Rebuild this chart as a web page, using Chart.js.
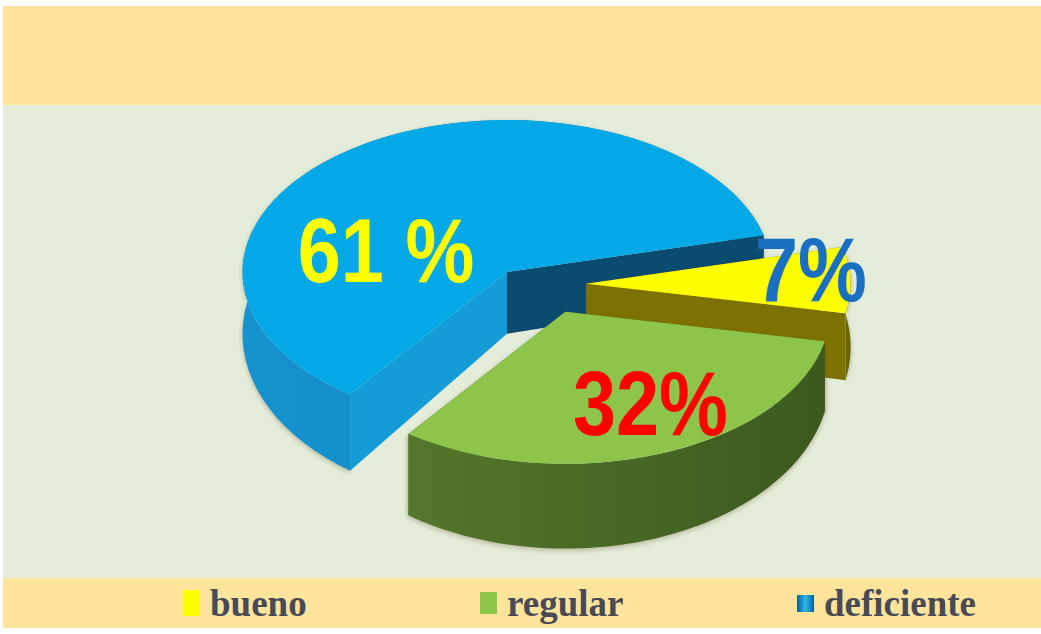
<!DOCTYPE html>
<html lang="es">
<head>
<meta charset="utf-8">
<title>Evaluación</title>
<script src="https://cdn.jsdelivr.net/npm/chart.js@4.4.1/dist/chart.umd.min.js"></script>
<style>
  html, body { margin: 0; padding: 0; background: #fff; }
  #stage { position: relative; width: 1041px; height: 634px; overflow: hidden; }
  .band { position: absolute; left: 3px; right: 0; }
  #head { top: 6px; height: 99px; background: #fee59b; }
  #panel { top: 105px; height: 473px; background: #e3edda; }
  #foot { top: 578px; height: 50px; background: #fee59b; }
  #pie { position: absolute; left: 0; top: 0; }
  .key { position: absolute; top: 0; height: 50px; display: flex; align-items: center;
         font: bold 37px "Liberation Serif", "Times New Roman", serif; color: #4a4a57; }
  .key i { display: inline-block; width: 17px; margin-right: 10px; }
</style>
</head>
<body>
<div id="stage">
  <div class="band" id="head"></div>
  <div class="band" id="panel"></div>
  <div class="band" id="foot"></div>
  <canvas id="pie" width="1041" height="634"></canvas>
</div>
<script>
// Data
const categories = ['bueno', 'regular', 'deficiente'];
const shares = [7, 32, 61];
const pctSpacer = ['', '', ' '];

// Slice colours: top face, the two cut faces and the curved outer wall
const topColors = ['#ffff00', '#8dc54b', '#03a9e6'];
const startFace = ['#7a6f00', '#4d6f27', '#139cd6'];
const endFace = ['#7d7200', '#4d6f27', '#0a4b70'];
const rimShade = [['#807400', '#6c6400'], ['#5b7f2e', '#3a591f'], ['#1593ce', '#0d84bf']];
const labelColors = ['#1b6fc2', '#ff0000', '#ffff00'];

// 3D look
const TILT_X = 1.74;          // horizontal stretch of the disc
const DEPTH = 64;             // wall height at y = DEPTH_REF_Y
const DEPTH_GROW = 0.12;      // walls nearer the viewer look taller
const DEPTH_REF_Y = 290;
const explode = [47, 52, 0];        // pull-out of each slice
const explodeTurn = [16, -19, 0];   // degrees, relative to the slice's middle angle
const drawOrder = [2, 0, 1];        // back to front
const labelFrac = [0.855, 0.68, 0.48];
const labelTurn = [-5, -7, -38.6];

// Legend in the bottom band
const keyLeft = [183, 480, 797];
const keyBoxH = [26, 22, 17];
const keyFill = ['#ffff00', '#8dc54b', 'linear-gradient(90deg,#0b5e8e,#2cb9f0 50%,#0b5e8e)'];

const foot = document.getElementById('foot');
categories.forEach((name, i) => {
  const el = document.createElement('div');
  el.className = 'key';
  el.style.left = (keyLeft[i] - 3) + 'px';
  el.innerHTML = `<i style="height:${keyBoxH[i]}px;background:${keyFill[i]}"></i>${name}`;
  foot.appendChild(el);
});

const rad = d => d * Math.PI / 180;
const depthAt = y => DEPTH + DEPTH_GROW * (y - DEPTH_REF_Y);

function sliceGeom(arc, i) {
  const mid = (arc.startAngle + arc.endAngle) / 2;
  const dir = mid + rad(explodeTurn[i]);
  const dx = Math.cos(dir) * explode[i];
  const dy = Math.sin(dir) * explode[i];
  return { x: arc.x + dx, y: arc.y + dy, dx, dy, r: arc.outerRadius, a0: arc.startAngle, a1: arc.endAngle, mid };
}

function cutFace(ctx, g, a, color) {
  const ex = g.x + g.r * Math.cos(a);
  const ey = g.y + g.r * Math.sin(a);
  ctx.beginPath();
  ctx.moveTo(g.x, g.y);
  ctx.lineTo(ex, ey);
  ctx.lineTo(ex, ey + depthAt(ey));
  ctx.lineTo(g.x, g.y + depthAt(g.y));
  ctx.closePath();
  ctx.fillStyle = color;
  ctx.fill();
}

function rimWall(ctx, g, shade) {
  const steps = 64;
  const pts = [];
  for (let k = 0; k <= steps; k++) {
    const a = g.a0 + (g.a1 - g.a0) * k / steps;
    pts.push([g.x + g.r * Math.cos(a), g.y + g.r * Math.sin(a)]);
  }
  const grad = ctx.createLinearGradient(g.x - g.r, 0, g.x + g.r, 0);
  grad.addColorStop(0, shade[0]);
  grad.addColorStop(1, shade[1]);
  ctx.beginPath();
  pts.forEach(([x, y], k) => (k ? ctx.lineTo(x, y) : ctx.moveTo(x, y)));
  for (let k = pts.length - 1; k >= 0; k--) {
    const [x, y] = pts[k];
    ctx.lineTo(x, y + depthAt(y));
  }
  ctx.closePath();
  ctx.fillStyle = grad;
  ctx.fill();
}

const pie3d = {
  id: 'pie3d',
  beforeDatasetsDraw(chart) {
    const ctx = chart.ctx;
    const arcs = chart.getDatasetMeta(0).data;
    drawOrder.forEach(i => {
      const arc = arcs[i];
      const g = sliceGeom(arc, i);
      ctx.save();
      ctx.translate(arc.x, arc.y);
      ctx.scale(TILT_X, 1);
      ctx.translate(-arc.x, -arc.y);

      // faces turned away first, then the outer wall, then faces turned to the viewer
      const startFront = Math.cos(g.a0) < 0;
      const endFront = Math.cos(g.a1) > 0;
      ctx.save();
      ctx.shadowColor = 'rgba(110, 80, 40, 0.35)';
      ctx.shadowBlur = 5;
      ctx.shadowOffsetY = 2;
      if (!startFront) cutFace(ctx, g, g.a0, startFace[i]);
      if (!endFront) cutFace(ctx, g, g.a1, endFace[i]);
      rimWall(ctx, g, rimShade[i]);
      ctx.restore();
      if (startFront) cutFace(ctx, g, g.a0, startFace[i]);
      if (endFront) cutFace(ctx, g, g.a1, endFace[i]);

      // top face drawn by the arc element itself
      ctx.translate(g.dx, g.dy);
      arc.draw(ctx);
      ctx.restore();
    });
    return false;
  },
  afterDraw(chart) {
    const ctx = chart.ctx;
    const arcs = chart.getDatasetMeta(0).data;
    ctx.save();
    ctx.font = 'bold 90px "Liberation Sans", Arial, sans-serif';
    ctx.textAlign = 'center';
    ctx.textBaseline = 'alphabetic';
    arcs.forEach((arc, i) => {
      const g = sliceGeom(arc, i);
      const a = g.mid + rad(labelTurn[i]);
      const px = g.x + Math.cos(a) * g.r * labelFrac[i];
      const py = g.y + Math.sin(a) * g.r * labelFrac[i];
      const sx = arc.x + (px - arc.x) * TILT_X;
      ctx.save();
      ctx.translate(sx, py + 32);
      ctx.scale(0.86, 1);
      ctx.fillStyle = labelColors[i];
      ctx.fillText(shares[i] + pctSpacer[i] + '%', 0, 0);
      ctx.restore();
    });
    ctx.restore();
  }
};

new Chart(document.getElementById('pie'), {
  type: 'pie',
  data: {
    labels: categories,
    datasets: [{ data: shares, backgroundColor: topColors, borderWidth: 0 }]
  },
  options: {
    responsive: false,
    animation: false,
    events: [],
    rotation: 76,
    layout: { padding: { top: 120, bottom: 210, left: 0, right: 27 } },
    plugins: { legend: { display: false }, tooltip: { enabled: false } }
  },
  plugins: [pie3d]
});
</script>
</body>
</html>
